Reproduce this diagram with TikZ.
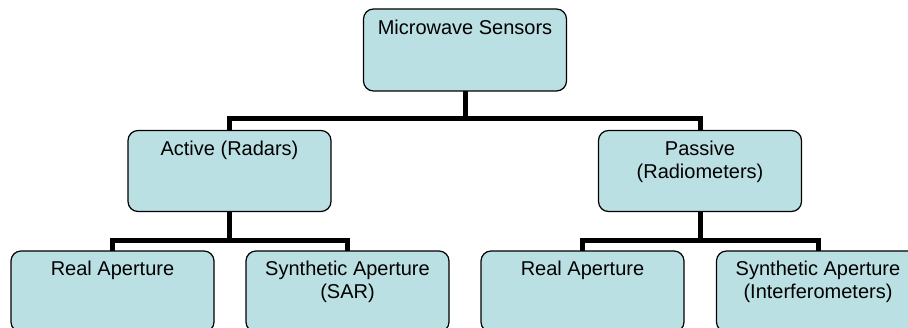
\documentclass[tikz,border=0pt]{standalone}
\usepackage{fontspec}
\setmainfont{Liberation Sans}
\definecolor{boxfill}{HTML}{BBE0E3}
\begin{document}
\begin{tikzpicture}[x=1pt,y=-1pt,
  box/.style={draw=black,line width=1.2pt,fill=boxfill,rounded corners=10pt,
    minimum width=203pt,minimum height=81pt,inner sep=0pt,outer sep=0pt},
  lbl/.style={anchor=north,align=center,inner sep=0pt,
    font=\fontsize{20}{23}\selectfont},
  conn/.style={line width=5pt,line join=miter,line cap=butt}]
\useasboundingbox (0,0) rectangle (908,328);
\clip (0,0) rectangle (908,328);
% boxes
\node[box,minimum height=82pt] (top) at (465,50) {};
\node[box] (act) at (229.5,171) {};
\node[box] (pas) at (700,171) {};
\node[box] (ra1) at (112.5,291.5) {};
\node[box] (sa1) at (347.5,291.5) {};
\node[box] (ra2) at (582.5,291.5) {};
\node[box] (sa2) at (818,291.5) {};
% labels
\node[lbl] (topT) at ([yshift=-10.5pt]top.north) {Microwave Sensors};
\node[lbl] (actT) at ([yshift=-10pt]act.north) {Active (Radars)};
\node[lbl] (pasT) at ([yshift=-10pt]pas.north) {Passive\\(Radiometers)};
\node[lbl] (ra1T) at ([yshift=-10pt]ra1.north) {Real Aperture};
\node[lbl] (sa1T) at ([yshift=-10pt]sa1.north) {Synthetic Aperture\\(SAR)};
\node[lbl] (ra2T) at ([yshift=-10pt]ra2.north) {Real Aperture};
\node[lbl] (sa2T) at ([yshift=-10pt]sa2.north) {Synthetic Aperture\\(Interferometers)};
% connectors
\coordinate (b1) at (0,119);
\coordinate (b2) at (0,240.5);
\draw[conn] (top.south) -- (top.south |- b1);
\draw[conn] (act.north) -- (act.north |- b1) -- (pas.north |- b1) -- (pas.north);
\draw[conn] (act.south) -- (act.south |- b2);
\draw[conn] (ra1.north) -- (ra1.north |- b2) -- (sa1.north |- b2) -- (sa1.north);
\draw[conn] (pas.south) -- (pas.south |- b2);
\draw[conn] (ra2.north) -- (ra2.north |- b2) -- (sa2.north |- b2) -- (sa2.north);
\end{tikzpicture}
\end{document}
